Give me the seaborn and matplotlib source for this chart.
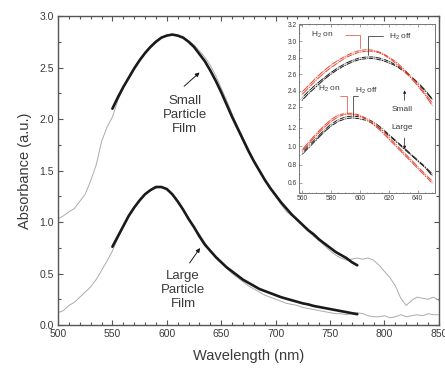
import numpy as np
import matplotlib
matplotlib.use("Agg")
import matplotlib.pyplot as plt
import seaborn as sns
from matplotlib.ticker import MultipleLocator

# ---------------- data ----------------
wl_exp = list(range(500, 851, 5))
small_exp = [1.03, 1.06, 1.10, 1.13, 1.20, 1.27, 1.40, 1.55, 1.78, 1.92,
             2.02, 2.18, 2.30, 2.41, 2.50, 2.58, 2.65, 2.71, 2.76, 2.79,
             2.81, 2.82, 2.81, 2.79, 2.76, 2.72, 2.66, 2.60, 2.52, 2.42,
             2.30, 2.18, 2.05, 1.93, 1.82, 1.71, 1.60, 1.50, 1.40, 1.32,
             1.25, 1.17, 1.10, 1.06, 1.03, 0.96, 0.91, 0.86, 0.82, 0.77,
             0.72, 0.68, 0.65, 0.63, 0.64, 0.65, 0.64, 0.65, 0.63, 0.58,
             0.52, 0.46, 0.38, 0.26, 0.19, 0.24, 0.27, 0.26, 0.25, 0.27,
             0.24]
large_exp = [0.12, 0.14, 0.19, 0.22, 0.27, 0.32, 0.37, 0.44, 0.53, 0.62,
             0.72, 0.84, 0.95, 1.05, 1.14, 1.21, 1.27, 1.31, 1.33, 1.34,
             1.32, 1.27, 1.20, 1.12, 1.03, 0.95, 0.88, 0.80, 0.72, 0.65,
             0.60, 0.55, 0.50, 0.46, 0.42, 0.38, 0.35, 0.32, 0.29, 0.27,
             0.25, 0.23, 0.21, 0.20, 0.19, 0.17, 0.16, 0.15, 0.14, 0.13,
             0.12, 0.11, 0.11, 0.10, 0.11, 0.12, 0.11, 0.09, 0.08, 0.08,
             0.09, 0.07, 0.08, 0.10, 0.08, 0.09, 0.10, 0.09, 0.11, 0.10,
             0.10]

wl_fit = list(range(550, 776, 5))
small_fit = [2.10, 2.21, 2.31, 2.40, 2.49, 2.57, 2.64, 2.70, 2.75, 2.79,
             2.81, 2.82, 2.81, 2.79, 2.75, 2.70, 2.63, 2.56, 2.47, 2.37,
             2.26, 2.14, 2.02, 1.91, 1.80, 1.69, 1.59, 1.50, 1.41, 1.33,
             1.26, 1.19, 1.13, 1.07, 1.02, 0.97, 0.92, 0.88, 0.83, 0.79,
             0.75, 0.71, 0.68, 0.65, 0.61, 0.58]
large_fit = [0.76, 0.86, 0.96, 1.06, 1.14, 1.21, 1.27, 1.31, 1.34, 1.34,
             1.32, 1.27, 1.20, 1.12, 1.03, 0.95, 0.86, 0.78, 0.72, 0.66,
             0.61, 0.56, 0.52, 0.48, 0.44, 0.41, 0.38, 0.35, 0.33, 0.31,
             0.29, 0.27, 0.255, 0.24, 0.225, 0.21, 0.20, 0.185, 0.175, 0.165,
             0.155, 0.145, 0.135, 0.125, 0.115, 0.105]

# inset data (H2 on = red, H2 off = black)
wl_in = list(range(560, 651, 5))
small_off_1 = [2.31, 2.40, 2.48, 2.55, 2.62, 2.68, 2.73, 2.77, 2.80, 2.81,
               2.81, 2.79, 2.76, 2.71, 2.66, 2.58, 2.50, 2.41, 2.30]
small_off_2 = [2.28, 2.37, 2.45, 2.53, 2.60, 2.66, 2.71, 2.75, 2.78, 2.79,
               2.79, 2.77, 2.74, 2.70, 2.64, 2.57, 2.49, 2.40, 2.29]
small_on_1 = [2.38, 2.47, 2.56, 2.64, 2.71, 2.77, 2.82, 2.86, 2.89, 2.90,
              2.89, 2.86, 2.81, 2.75, 2.67, 2.58, 2.48, 2.37, 2.25]
small_on_2 = [2.35, 2.44, 2.53, 2.61, 2.68, 2.74, 2.80, 2.84, 2.87, 2.88,
              2.88, 2.85, 2.80, 2.73, 2.65, 2.56, 2.46, 2.35, 2.22]
large_off_1 = [0.93, 1.01, 1.09, 1.17, 1.24, 1.29, 1.32, 1.33, 1.32, 1.30,
               1.26, 1.20, 1.13, 1.06, 0.99, 0.92, 0.85, 0.78, 0.70]
large_off_2 = [0.91, 0.99, 1.07, 1.15, 1.22, 1.27, 1.30, 1.31, 1.30, 1.28,
               1.24, 1.18, 1.12, 1.05, 0.98, 0.91, 0.84, 0.77, 0.68]
large_on_1 = [0.96, 1.05, 1.14, 1.22, 1.29, 1.34, 1.36, 1.36, 1.34, 1.30,
              1.25, 1.18, 1.10, 1.02, 0.94, 0.86, 0.78, 0.70, 0.62]
large_on_2 = [0.95, 1.03, 1.12, 1.20, 1.27, 1.32, 1.35, 1.35, 1.33, 1.29,
              1.23, 1.16, 1.08, 1.00, 0.92, 0.84, 0.76, 0.68, 0.60]

x_ticks = [500, 550, 600, 650, 700, 750, 800, 850]
y_ticks = [0.0, 0.5, 1.0, 1.5, 2.0, 2.5, 3.0]
in_x_ticks = [560, 580, 600, 620, 640]
in_y_upper = [2.2, 2.4, 2.6, 2.8, 3.0, 3.2]
in_y_lower = [0.6, 0.8, 1.0, 1.2]

# ---------------- style ----------------
sns.set_style("ticks")
plt.rcParams['font.family'] = ['Liberation Sans', 'DejaVu Sans']
plt.rcParams['mathtext.fontset'] = 'custom'
plt.rcParams['mathtext.rm'] = 'Liberation Sans'

TXT = '#3a3a3a'
SP = '#555555'
GRAY = '#ababab'
BLK = '#1a1a1a'
RED = '#e5452f'

fig = plt.figure(figsize=(4.45, 3.69), dpi=100)
ax = fig.add_axes([0.1303, 0.1192, 0.856, 0.8374])

sns.lineplot(x=wl_exp, y=small_exp, ax=ax, color=GRAY, lw=0.7)
sns.lineplot(x=wl_exp, y=large_exp, ax=ax, color=GRAY, lw=0.7)
sns.lineplot(x=wl_fit, y=small_fit, ax=ax, color=BLK, lw=1.9)
sns.lineplot(x=wl_fit, y=large_fit, ax=ax, color=BLK, lw=1.9)

ax.set_xlim(500, 850)
ax.set_ylim(0, 3.0)
ax.set_xticks(x_ticks)
ax.set_xticklabels([str(v) for v in x_ticks])
ax.set_yticks(y_ticks)
ax.set_yticklabels([f"{v:.1f}" for v in y_ticks])
ax.xaxis.set_minor_locator(MultipleLocator(10))
ax.yaxis.set_minor_locator(MultipleLocator(0.25))
ax.tick_params(which='both', direction='in', top=True, right=True,
               colors=SP, labelcolor=TXT, labelsize=7.5, width=0.8)
ax.tick_params(which='major', length=3.5, pad=3)
ax.tick_params(which='minor', length=2)
for s in ax.spines.values():
    s.set_color(SP)
    s.set_linewidth(1.0)
ax.set_xlabel("Wavelength (nm)", fontsize=10.5, color=TXT, labelpad=7)
ax.set_ylabel("Absorbance (a.u.)", fontsize=10.5, color=TXT, labelpad=5)

ax.text(616.5, 2.04, "Small\nParticle\nFilm", ha='center', va='center',
        fontsize=9.5, color=TXT, linespacing=1.2)
ax.annotate('', xy=(632, 2.47), xytext=(614, 2.30),
            arrowprops=dict(arrowstyle='-|>', color=BLK, lw=0.7,
                            mutation_scale=6))
ax.text(615, 0.34, "Large\nParticle\nFilm", ha='center', va='center',
        fontsize=9.5, color=TXT, linespacing=1.2)
ax.annotate('', xy=(632, 0.77), xytext=(619.5, 0.58),
            arrowprops=dict(arrowstyle='-|>', color=BLK, lw=0.7,
                            mutation_scale=6))

# ---------------- inset (broken y-axis) ----------------
axu = fig.add_axes([0.672, 0.6965, 0.3056, 0.2385])
axl = fig.add_axes([0.672, 0.4770, 0.3056, 0.2195])

kw = dict(lw=0.7, marker='o', ms=2.0, mfc='none', mew=0.45)
for arr in (small_off_1, small_off_2):
    sns.lineplot(x=wl_in, y=arr, ax=axu, color=BLK, **kw)
for arr in (small_on_1, small_on_2):
    sns.lineplot(x=wl_in, y=arr, ax=axu, color=RED, **kw)
for arr in (large_off_1, large_off_2):
    sns.lineplot(x=wl_in, y=arr, ax=axl, color=BLK, **kw)
for arr in (large_on_1, large_on_2):
    sns.lineplot(x=wl_in, y=arr, ax=axl, color=RED, **kw)

for a in (axu, axl):
    a.set_xlim(558, 652)
    a.set_facecolor('white')
    for s in a.spines.values():
        s.set_color('#777777')
        s.set_linewidth(0.7)
    a.xaxis.set_minor_locator(MultipleLocator(5))
    a.yaxis.set_minor_locator(MultipleLocator(0.1))
    a.tick_params(which='both', direction='in', colors='#777777',
                  labelcolor=TXT, labelsize=4.8, width=0.5, pad=1.5)
    a.tick_params(which='major', length=2)
    a.tick_params(which='minor', length=1)

axu.set_ylim(2.139, 3.212)
axu.set_yticks(in_y_upper)
axu.set_yticklabels([f"{v:.1f}" for v in in_y_upper])
axu.spines['bottom'].set_visible(False)
axu.tick_params(axis='x', which='both', bottom=False, top=True,
                labelbottom=False)

axl.set_ylim(0.491, 1.374)
axl.set_yticks(in_y_lower)
axl.set_yticklabels([f"{v:.1f}" for v in in_y_lower])
axl.spines['top'].set_visible(False)
axl.set_xticks(in_x_ticks)
axl.set_xticklabels([str(v) for v in in_x_ticks])
axl.tick_params(axis='x', which='both', top=False, bottom=True)

H_ON = r"H$_{\mathregular{2}}$ on"
H_OFF = r"H$_{\mathregular{2}}$ off"
tfs = 6
# upper pair
axu.text(574, 3.08, H_ON, fontsize=tfs, color=TXT, ha='center', va='center')
axu.plot([590, 600, 600], [3.08, 3.08, 2.92], color=RED, lw=0.5)
axu.text(628, 3.06, H_OFF, fontsize=tfs, color=TXT, ha='center', va='center')
axu.plot([616, 606, 606], [3.06, 3.06, 2.83], color=BLK, lw=0.5)
# lower pair
axl.text(579, 1.625, H_ON, fontsize=tfs, color=TXT, ha='center', va='center')
axl.plot([586, 591, 591], [1.55, 1.55, 1.36], color=RED, lw=0.5,
         clip_on=False)
axl.text(605, 1.61, H_OFF, fontsize=tfs, color=TXT, ha='center', va='center')
axl.plot([599, 595, 595], [1.55, 1.55, 1.33], color=BLK, lw=0.5,
         clip_on=False)
# small / large markers
axl.text(629, 1.40, "Small", fontsize=tfs, color=TXT, ha='center',
         va='center')
axl.annotate('', xy=(631, 1.64), xytext=(631, 1.47), annotation_clip=False,
             arrowprops=dict(arrowstyle='-|>', color=BLK, lw=0.5,
                             mutation_scale=4))
axl.text(629, 1.20, "Large", fontsize=tfs, color=TXT, ha='center',
         va='center')
axl.annotate('', xy=(631, 0.94), xytext=(631, 1.12), annotation_clip=False,
             arrowprops=dict(arrowstyle='-|>', color=BLK, lw=0.5,
                             mutation_scale=4))

fig.savefig("out.png", dpi=100)
